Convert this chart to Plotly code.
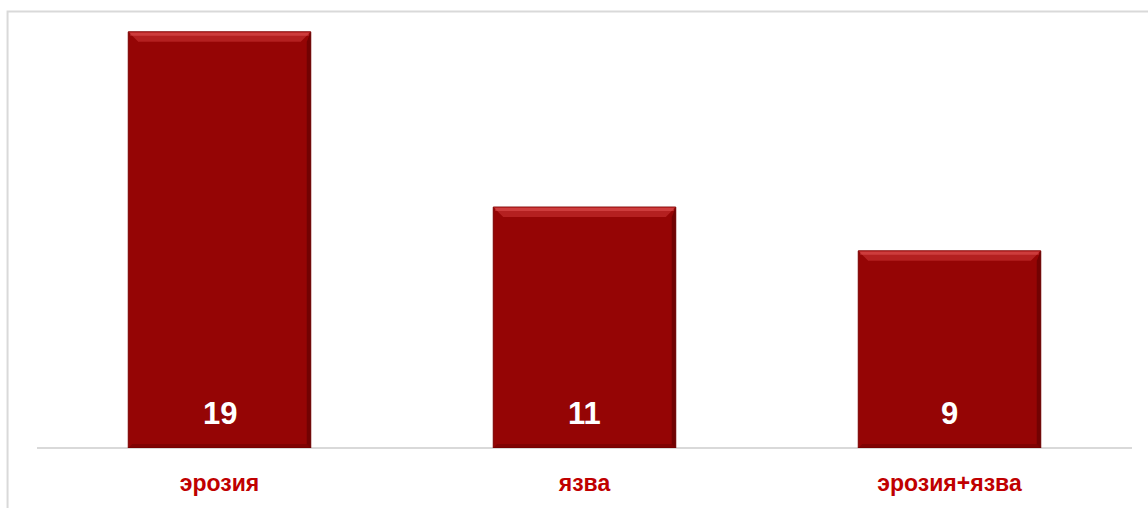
import plotly.graph_objects as go

categories = ["эрозия", "язва", "эрозия+язва"]
values = [19, 11, 9]

bar_color = "#950505"
label_color = "#c00000"
BAR_W = 0.5
Y_MAX = 19.54

positions = list(range(len(categories)))

fig = go.Figure()
fig.add_trace(go.Bar(
    x=positions, y=values,
    marker=dict(color=bar_color, line=dict(color="#7a0000", width=1)),
    width=BAR_W,
    hoverinfo="skip",
))

# bevel decoration derived from the bar geometry
px_x = BAR_W / 183.0      # category units per pixel (approx)
px_y = Y_MAX / 428.0      # value units per pixel
shapes = []
for p, v in zip(positions, values):
    x0, x1 = p - BAR_W / 2, p + BAR_W / 2
    b = 10
    # top bevel
    shapes.append(dict(
        type="path", xref="x", yref="y",
        path=f"M {x0},{v} L {x1},{v} L {x1 - b*px_x},{v - b*px_y} L {x0 + b*px_x},{v - b*px_y} Z",
        fillcolor="rgba(205,55,55,0.55)", line=dict(width=0), layer="above",
    ))
    shapes.append(dict(
        type="rect", xref="x", yref="y",
        x0=x0 + 2*px_x, x1=x1 - 2*px_x, y0=v - 4*px_y, y1=v - 1*px_y,
        fillcolor="rgba(235,95,95,0.45)", line=dict(width=0), layer="above",
    ))
    # right dark edge
    shapes.append(dict(
        type="path", xref="x", yref="y",
        path=f"M {x1},{v} L {x1},0 L {x1 - 4*px_x},{4*px_y} L {x1 - 4*px_x},{v - b*px_y} Z",
        fillcolor="rgba(70,0,0,0.45)", line=dict(width=0), layer="above",
    ))
    # bottom dark edge
    shapes.append(dict(
        type="path", xref="x", yref="y",
        path=f"M {x0},0 L {x1},0 L {x1 - 4*px_x},{4*px_y} L {x0 + 4*px_x},{4*px_y} Z",
        fillcolor="rgba(90,0,0,0.35)", line=dict(width=0), layer="above",
    ))

shapes.append(dict(
    type="rect", xref="paper", yref="paper",
    x0=-0.0269, x1=1.02, y0=-0.16, y1=1.0199,
    line=dict(color="#d9d9d9", width=2), layer="below",
))

for p, v in zip(positions, values):
    fig.add_annotation(
        x=p, y=0, text=f"<b>{v}</b>", showarrow=False,
        yanchor="bottom", yshift=15,
        font=dict(family="Liberation Sans, Arial", size=31, color="white"),
    )

fig.update_layout(
    width=1148, height=508,
    margin=dict(l=37, r=16, t=20, b=60),
    plot_bgcolor="white", paper_bgcolor="white",
    showlegend=False,
    xaxis=dict(
        range=[-0.5, 2.5],
        tickmode="array", tickvals=positions,
        ticktext=[f"<b>{c}</b>" for c in categories],
        showgrid=False, zeroline=False, showline=False,
        ticks="outside", ticklen=14, tickcolor="rgba(0,0,0,0)",
        tickfont=dict(family="Liberation Sans, Arial", size=23, color=label_color),
    ),
    yaxis=dict(
        range=[0, Y_MAX], showgrid=False, zeroline=True, zerolinecolor="#d9d9d9",
        zerolinewidth=2, showticklabels=False, showline=False,
    ),
    shapes=shapes,
)

fig.write_html("out.html", config={"displayModeBar": False},
               post_script="document.body.style.margin='0';")
